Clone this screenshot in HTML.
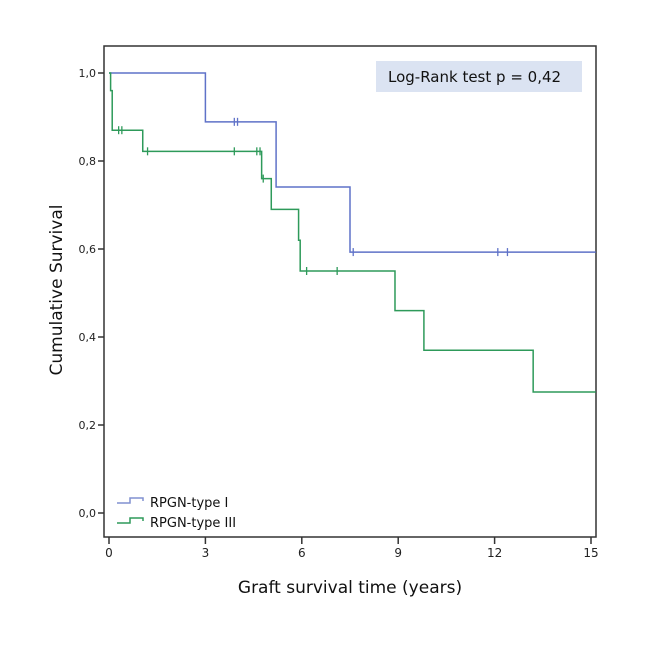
<!DOCTYPE html>
<html><head><meta charset="utf-8"><style>
body{margin:0;background:#fff;}
svg text{font-family:"DejaVu Sans","Liberation Sans",sans-serif;}
</style></head><body>
<svg width="666" height="656" viewBox="0 0 666 656">
<rect x="104" y="46" width="492" height="491" fill="#fff" stroke="#333" stroke-width="1.5"/>
<g id="axes"></g>
<g id="series"></g>
<rect x="376" y="61" width="206" height="31" fill="#dbe3f2"/>
<text x="388" y="82" font-size="15" fill="#111">Log-Rank test p = 0,42</text>
<g>
<path d="M117,503 h13 v-5 h13 v3" fill="none" stroke="#8090d0" stroke-width="1.5"/>
<text x="150" y="507" font-size="13" fill="#111">RPGN-type I</text>
<path d="M117,523 h13 v-5 h13 v3" fill="none" stroke="#2e9a5a" stroke-width="1.5"/>
<text x="150" y="527" font-size="13" fill="#111">RPGN-type III</text>
</g>
<text x="350" y="593" font-size="17" text-anchor="middle" fill="#111">Graft survival time (years)</text>
<text transform="translate(62,290) rotate(-90)" font-size="17" text-anchor="middle" fill="#111">Cumulative Survival</text>
</svg>
<script>
const xTicks=[0,3,6,9,12,15];
const yTicks=[0,0.2,0.4,0.6,0.8,1.0];
const yTickLabels=["0,0","0,2","0,4","0,6","0,8","1,0"];
const t1Times=[0,3.0,5.2,7.5,15.15];
const t1Surv=[1.0,0.889,0.741,0.593,0.593];
const t1Cens=[3.9,4.0,7.6,12.1,12.4];
const t3Times=[0,0.05,0.1,1.05,4.75,5.05,5.9,5.95,8.9,9.8,13.2,15.15];
const t3Surv=[1.0,0.96,0.87,0.822,0.76,0.69,0.62,0.55,0.46,0.37,0.275,0.275];
const t3Cens=[0.3,0.4,1.2,3.9,4.6,4.7,4.8,6.15,7.1];
const X=v=>109+v*(591-109)/15;
const Y=v=>513-440*v;
const NS='http://www.w3.org/2000/svg';
const ax=document.getElementById('axes'),sr=document.getElementById('series');
function mk(tag,at,par){const e=document.createElementNS(NS,tag);for(const k in at)e.setAttribute(k,at[k]);par.appendChild(e);return e;}
xTicks.forEach(t=>{
 const l=mk('line',{x1:X(t),x2:X(t),y1:537,y2:544,stroke:'#333','stroke-width':1.5},ax);
 
 
 const tx=mk('text',{x:X(t),y:557,'font-size':12,'text-anchor':'middle',fill:'#222'},ax);tx.textContent=t;
 
 
});
yTicks.forEach((t,i)=>{
 const l=mk('line',{x1:98,x2:104,y1:Y(t),y2:Y(t),stroke:'#333','stroke-width':1.5},ax);
 
 
 const tx=mk('text',{x:96,y:Y(t)+4,'font-size':11,'text-anchor':'end',fill:'#222'},ax);tx.textContent=yTickLabels[i];
 
 
});
function survAt(times,surv,t){let s=surv[0];for(let i=0;i<times.length;i++)if(times[i]<=t)s=surv[i];return s;}
function draw(times,surv,cens,col,name){
 let d='M'+X(times[0])+','+Y(surv[0]);
 for(let i=1;i<times.length;i++){d+=' H'+X(times[i])+' V'+Y(surv[i]);}
 const p=mk('path',{d:d,fill:'none',stroke:col,'stroke-width':1.5},sr);
 
 
 cens.forEach(c=>{const y=Y(survAt(times,surv,c));
  const m=mk('line',{x1:X(c),x2:X(c),y1:y-4,y2:y+4,stroke:col,'stroke-width':1.3},sr);
  
  });
}
draw(t1Times,t1Surv,t1Cens,'#5f72c8','type1');
draw(t3Times,t3Surv,t3Cens,'#2e9a5a','type3');
</script>
</body></html>
